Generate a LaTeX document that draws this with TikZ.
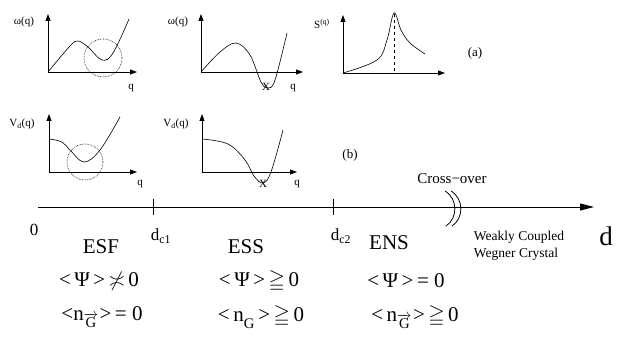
\documentclass[tikz,border=0pt]{standalone}
\usepackage{amssymb}
\usepackage{fontspec}
\setmainfont{Liberation Serif}
\usetikzlibrary{arrows.meta}
\tikzset{
	axis/.style={line width=0.8pt,-{Triangle[length=7pt,width=5pt]}},
	bigaxis/.style={line width=1pt,-{Triangle[length=14pt,width=7pt]}},
	curve/.style={line width=0.6pt},
	ring/.style={densely dotted,line width=0.6pt},
	lab/.style={inner sep=0pt,font=\fontsize{11}{12}\selectfont},
	mid/.style={inner sep=0pt,font=\fontsize{17}{18}\selectfont},
	big/.style={inner sep=0pt,font=\fontsize{21}{22}\selectfont},
}

\begin{document}
\begin{tikzpicture}[x=1pt,y=-1pt]
	\useasboundingbox (0,0) rectangle (623,339);
	% axes of the five small graphs
	\foreach \g/\ox/\oy/\xe in {1/48/72/137,2/201/72/303,3/343/73/445,4/49/172/137,5/202/172/297}{
		\coordinate (o\g) at (\ox,\oy);
		\coordinate (t\g) at (\ox,\oy-58);
		\coordinate (e\g) at (\xe,\oy);
		\draw[axis] (o\g) -- (t\g);
		\draw[axis] (o\g) -- (e\g);
	}
	\foreach \g/\x/\y/\txt in {1/24/22/ω(q),2/178/22/ω(q),3/322/24/S\textsuperscript{(q)},
		4/22/124/V\textsubscript{d}(q),5/176/124/V\textsubscript{d}(q)}
	\node[lab] (l\g) at (\x,\y) {\txt};
	\foreach \g/\x/\y in {1/131/88,2/293/88,4/140/184,5/297/184}
	\node[lab] (q\g) at (\x,\y) {q};
	\node[lab] (x2) at (266,87) {X};
	\node[lab] (x5) at (263,184) {X};
	% curves
	\draw[curve] plot[smooth,tension=0.6] coordinates {(48,72) (70,46) (78,41) (88,47) (102,60) (113,53) (129,19)};
	\draw[curve] plot[smooth,tension=0.6] coordinates {(201,72) (220,52) (236,43) (250,55) (261,82) (268,88) (275,80) (287,33)};
	\draw[curve] plot[smooth,tension=0.6] coordinates {(343,73) (377,60) (387,40) (394,13) (401,30) (410,43) (425,54)};
	\draw[curve] plot[smooth,tension=0.6] coordinates {(49,139) (62,142) (70,150) (84,162) (100,150) (120,117)};
	\draw[curve] plot[smooth,tension=0.6] coordinates {(202,139) (228,144) (245,160) (254,176) (263,183) (271,172) (283,130)};
	\draw[dashed,line width=0.6pt] (394,14) -- (o3-|394,0);
	\draw[ring] (103,58) circle[radius=19];
	\draw[ring] (85,162) circle[radius=18];
	\node[lab,font=\fontsize{13}{14}\selectfont] (a) at (475,53) {(a)};
	\node[lab,font=\fontsize{13}{14}\selectfont] (b) at (350,155) {(b)};
	% main axis
	\coordinate (s) at (38,207);
	\coordinate (f) at (594,207);
	\draw[bigaxis] (s) -- (f);
	\foreach \x in {153,333}
	\draw[line width=1pt] (\x,199) -- (\x,215);
	\draw[line width=0.8pt] (445,191) .. controls (458,199) and (458,218) .. (446,226);
	\draw[line width=0.8pt] (451,191) .. controls (464,199) and (464,218) .. (452,226);
	\node[lab,font=\fontsize{15}{16}\selectfont] (co) at (452,179) {Cross−over};
	\node[lab,font=\fontsize{13.5}{17}\selectfont,align=left] (wc) at (519,246) {Weakly Coupled\\Wegner Crystal};
	\node[mid] (zero) at (34,230) {0};
	\node[big] (esf) at (101,247) {ESF};
	\node[mid] (dc1) at (161,236) {d\textsubscript{c1}};
	\node[big] (ess) at (246,247) {ESS};
	\node[mid] (dc2) at (341,236) {d\textsubscript{c2}};
	\node[big] (ens) at (389,243) {ENS};
	\node[lab,font=\fontsize{27}{28}\selectfont] (d) at (606,236) {d};
	% order parameters
	\node[big] (p1) at (99,281) {<\,Ψ\,>\,$\not\asymp$\,0};
	\node[big] (p2) at (259,281) {<\,Ψ\,>\,$\geqq$\,0};
	\node[big] (p3) at (406,281) {<\,Ψ\,>\,= 0};
	\node[big] (n1) at (102,317) {<n\textsubscript{$\overrightarrow{\hbox{G}}$}\kern1pt>\,= 0};
	\node[big] (n2) at (261,317) {<\,n\textsubscript{\raisebox{-4pt}{G}}\,>\,$\geqq$\,0};
	\node[big] (n3) at (415,317) {<\,n\textsubscript{$\overrightarrow{\hbox{G}}$}\kern1pt>\,$\geqq$\,0};
\end{tikzpicture}
\end{document}
